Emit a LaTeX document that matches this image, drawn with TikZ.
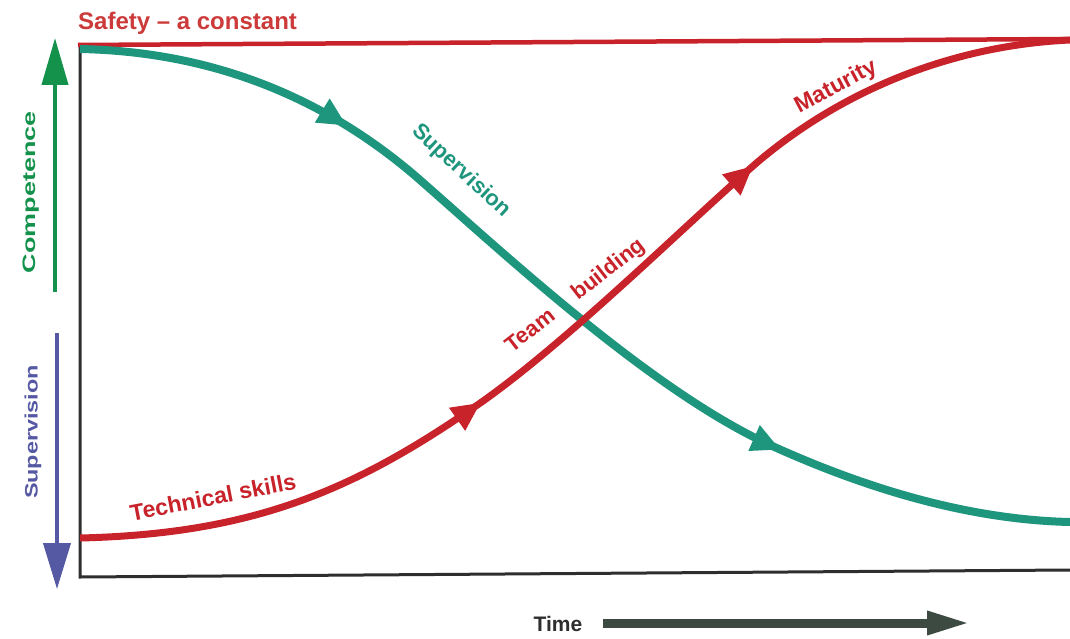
\documentclass[tikz,border=0pt]{standalone}
\usepackage{fontspec}
\setmainfont{Liberation Sans}
\usetikzlibrary{arrows.meta,decorations.markings}
\definecolor{cred}{HTML}{C8232B}
\definecolor{csafe}{HTML}{CC3A3A}
\definecolor{cteal}{HTML}{1E957D}
\definecolor{cgreen}{HTML}{14924C}
\definecolor{cblue}{HTML}{5558A2}
\definecolor{caxis}{HTML}{2E2E2E}
\definecolor{ctime}{HTML}{3C4A42}
\tikzset{
  lbl/.style={font=\bfseries\fontsize{#1}{#1}\selectfont, inner sep=0pt},
  lbl/.default=22,
  mtip/.tip={Triangle[length=29pt,width=26pt]},
}
\begin{document}
\begin{tikzpicture}[x=1pt,y=-1pt]
\path[use as bounding box, fill=white] (0,0) rectangle (1070,639);

% axes
\coordinate (o) at (80,577);
\coordinate (tl) at (80,45);
\coordinate (br) at (1070,570);
\coordinate (tr) at (1070,39);
\draw[caxis, line width=3pt] (tl) -- (o) -- (br);
\draw[cred, line width=4.5pt] (78,45) -- (tr);

% safety text
\node[lbl=24, text=csafe, anchor=base west] (safety) at (78,30) {Safety – a constant};

% competence arrow
\coordinate (g0) at (55,292);
\coordinate (g1) at (55,38);
\draw[cgreen, line width=4pt, -{Triangle[length=47pt,width=26pt]}] (g0) -- (g1);
\node[lbl=18, text=cgreen, rotate=90] (comp) at (31,192) {\scalebox{1.5}[1]{Competence}};

% supervision arrow
\coordinate (b0) at (57,333);
\coordinate (b1) at (57,589);
\draw[cblue, line width=4pt, -{Triangle[length=46pt,width=27pt]}] (b0) -- (b1);
\node[lbl=18, text=cblue, rotate=90] (supl) at (33,432) {\scalebox{1.3}[1]{Supervision}};

% teal curve
\draw[cteal, line width=8pt, postaction={decorate},
  decoration={markings,
    mark=at position 0.25 with {\arrow{mtip}},
    mark=at position 0.733 with {\arrow{mtip}}}]
  (80,49) .. controls (230,52) and (340,110) .. (420,180)
  .. controls (500,250) and (650,390) .. (770,445)
  .. controls (880,495) and (980,520) .. (1070,522);

% red curve
\draw[cred, line width=7pt, postaction={decorate},
  decoration={markings,
    mark=at position 0.378 with {\arrow{mtip}},
    mark=at position 0.695 with {\arrow{mtip}}}]
  (80,538) .. controls (250,534) and (350,492) .. (470,410)
  .. controls (560,350) and (690,220) .. (760,160)
  .. controls (850,85) and (960,45) .. (1070,40);

% curve labels
\node[lbl=22, text=cteal, rotate=-43] (supc) at (461,171) {Supervision};
\node[lbl=22, text=cred, rotate=38] (team) at (530,330) {Team};
\node[lbl=22, text=cred, rotate=38] (build) at (609,270) {building};
\node[lbl=23, text=cred, rotate=28] (mat) at (836,87) {Maturity};
\node[lbl=23, text=cred, rotate=11] (tech) at (213,497) {Technical skills};

% time
\node[lbl=21, text=caxis] (time) at (558,624) {Time};
\coordinate (t0) at (603,623);
\coordinate (t1) at (970,623);
\draw[ctime, line width=9pt, -{Triangle[length=43pt,width=22pt]}] (t0) -- (t1);
\end{tikzpicture}
\end{document}
